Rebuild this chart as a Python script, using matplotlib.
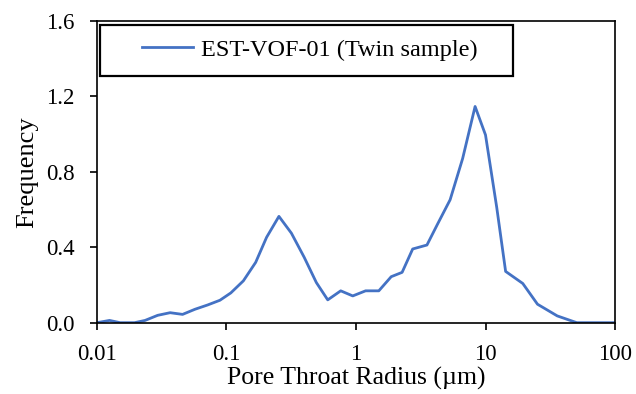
import numpy as np
import matplotlib.pyplot as plt
from matplotlib.patches import Rectangle
from matplotlib.ticker import FixedLocator, FixedFormatter, NullLocator

plt.rcParams['font.family'] = ['Liberation Serif', 'DejaVu Serif']

# pore throat radius (um) and frequency
radius = [0.01, 0.0125, 0.0151, 0.0195, 0.0235, 0.0294, 0.0367, 0.0458, 0.057,
          0.0715, 0.089, 0.108, 0.135, 0.168, 0.204, 0.254, 0.317, 0.398,
          0.494, 0.605, 0.762, 0.944, 1.186, 1.5, 1.87, 2.27, 2.74, 3.53,
          4.27, 5.33, 6.66, 8.31, 10.0, 12.2, 14.3, 19.4, 25.2, 35.8, 50.7, 100]
freq = [0.0, 0.012, 0.0, 0.0, 0.012, 0.039, 0.053, 0.044, 0.071,
        0.094, 0.119, 0.158, 0.222, 0.32, 0.453, 0.564, 0.475, 0.347,
        0.213, 0.121, 0.169, 0.142, 0.169, 0.169, 0.244, 0.267, 0.391, 0.412,
        0.524, 0.652, 0.871, 1.147, 0.996, 0.613, 0.272, 0.208, 0.098, 0.036, 0.0, 0.0]

xticks = [0.01, 0.1, 1, 10, 100]
xlabels = ["0.01", "0.1", "1", "10", "100"]
yticks = [0.0, 0.4, 0.8, 1.2, 1.6]

fig = plt.figure(figsize=(6.36, 3.94), dpi=100)
ax = fig.add_axes([0.1525, 0.181, 0.8145, 0.7655])

ax.plot(radius, freq, color="#4472C4", lw=2.0, label="EST-VOF-01 (Twin sample)")

ax.set_xscale("log")
ax.set_xlim(0.01, 100)
ax.set_ylim(0, 1.6)
ax.xaxis.set_major_locator(FixedLocator(xticks))
ax.xaxis.set_major_formatter(FixedFormatter(xlabels))
ax.xaxis.set_minor_locator(NullLocator())
ax.set_yticks(yticks)
ax.set_yticklabels(["%.1f" % v for v in yticks])

ax.tick_params(direction="out", length=5, width=1.2, labelsize=16.5, colors="black")
ax.tick_params(axis="y", pad=11)
ax.tick_params(axis="x", pad=10)
for s in ax.spines.values():
    s.set_linewidth(1.2)
    s.set_color("black")

ax.set_xlabel("Pore Throat Radius (µm)", fontsize=18.5, labelpad=2)
ax.set_ylabel("Frequency", fontsize=19, labelpad=6)

# legend box
ax.add_patch(Rectangle((0.006, 0.819), 0.797, 0.169, transform=ax.transAxes,
                       fill=False, edgecolor="black", lw=1.6, clip_on=False, zorder=5))
ax.legend(loc="center", bbox_to_anchor=(0.411, 0.905), frameon=False,
          fontsize=17.5, handlelength=2.1, handletextpad=0.3)

fig.savefig("out.png", dpi=100)
